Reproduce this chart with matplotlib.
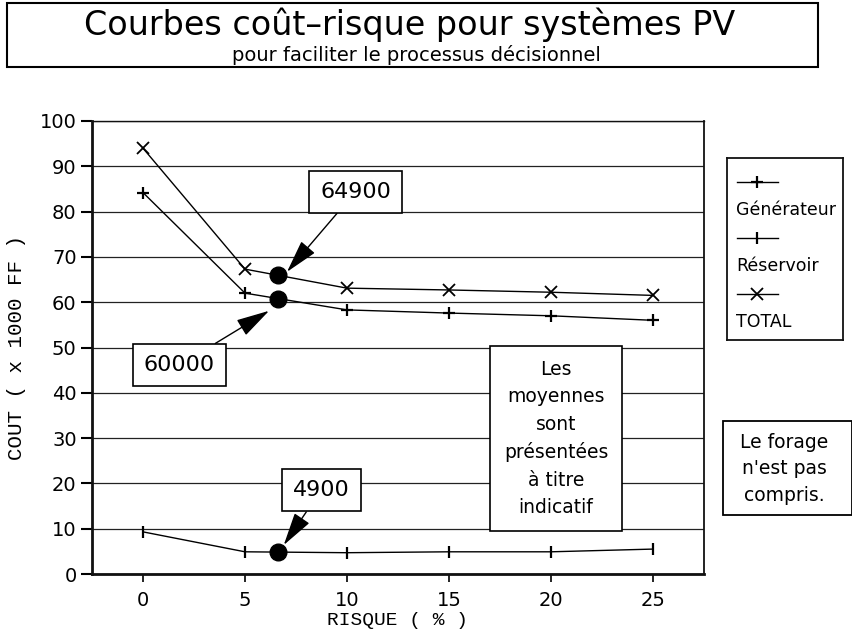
import matplotlib
matplotlib.use("Agg")
import matplotlib.pyplot as plt
from matplotlib.patches import Rectangle
from matplotlib.lines import Line2D

plt.rcParams['font.family'] = 'DejaVu Sans'
plt.rcParams['axes.edgecolor'] = '#111111'

# Data
risque = [0, 5, 10, 15, 20, 25]
generateur = [84.2, 62.0, 58.3, 57.6, 57.0, 56.0]
reservoir = [9.3, 4.9, 4.7, 4.9, 4.9, 5.5]
total = [94.0, 67.3, 63.1, 62.7, 62.2, 61.5]

# Optimum points (big dots) and their labels
risque_opt = 6.6
couts_opt = [65.9, 60.7, 4.85]
labels_opt = ["64900", "60000", "4900"]

series = [
    ("Générateur", generateur, dict(marker='+', markersize=9, markeredgewidth=1.6)),
    ("Réservoir", reservoir, dict(marker='|', markersize=8, markeredgewidth=1.6)),
    ("TOTAL", total, dict(marker='x', markersize=8, markeredgewidth=1.3)),
]

W, H = 853, 636
fig = plt.figure(figsize=(W / 100, H / 100), dpi=100)


def fx(x):
    return x / W


def fy(y):
    return 1 - y / H


ax = fig.add_axes([fx(92), fy(574), fx(704 - 92), (574 - 121) / H])

for name, vals, style in series:
    ax.plot(risque, vals, color='black', linewidth=1.0, **style)

ax.plot([risque_opt] * len(couts_opt), couts_opt, linestyle='none', marker='o',
        markersize=12, color='black', zorder=5)

ax.set_xlim(-2.5, 27.5)
ax.set_ylim(0, 100)
ax.set_xticks(risque)
ax.set_yticks(range(0, 101, 10))
ax.tick_params(axis='both', labelsize=14, direction='out')
ax.tick_params(axis='y', length=8, width=1.5, pad=3)
ax.tick_params(axis='x', length=6, width=1.2, pad=6)
ax.yaxis.grid(True, color='#222222', linewidth=0.9)
ax.set_axisbelow(True)
ax.spines['left'].set_linewidth(2.0)
ax.spines['bottom'].set_linewidth(2.0)
ax.spines['top'].set_linewidth(1.0)
ax.spines['right'].set_linewidth(1.3)

ax.set_xlabel("RISQUE ( % )", family='Liberation Mono', fontsize=14, labelpad=2)
ax.set_ylabel("COUT ( x 1000 FF )", family='Liberation Mono', fontsize=15, labelpad=10)

# Call-out boxes pointing at the optimum
arrow = dict(arrowstyle='-|>,head_length=1.3,head_width=0.35', color='black',
             lw=1.0, shrinkA=0, shrinkB=0, mutation_scale=16)
box = dict(boxstyle='square,pad=0.5', fc='white', ec='black', lw=1.2)
ax.annotate(labels_opt[0], xy=(7.06, 66.7), xytext=(10.42, 84.4), fontsize=16,
            ha='center', va='center', bbox=box, arrowprops=arrow, zorder=6)
ax.annotate(labels_opt[1], xy=(6.18, 58.1), xytext=(1.79, 46.1), fontsize=16,
            ha='center', va='center', bbox=box, arrowprops=arrow, zorder=6)
ax.annotate(labels_opt[2], xy=(6.9, 6.4), xytext=(8.73, 18.5), fontsize=16,
            ha='center', va='center', bbox=box, arrowprops=arrow, zorder=6)

ax.text(20.25, 29.9, "Les\nmoyennes\nsont\nprésentées\nà titre\nindicatif",
        fontsize=13.5, ha='center', va='center', linespacing=1.55, zorder=6,
        bbox=dict(boxstyle='square,pad=0.75', fc='white', ec='black', lw=1.2))

# Title box
fig.add_artist(Rectangle((fx(7), fy(67)), fx(818 - 7), (67 - 3) / H,
                         transform=fig.transFigure, fill=False, ec='black', lw=1.5))
fig.text(fx(410), fy(35), "Courbes coût\u2013risque pour systèmes PV", fontsize=24,
         ha='center', va='baseline')
fig.text(fx(416), fy(61), "pour faciliter le processus décisionnel", fontsize=14,
         ha='center', va='baseline')

# Legend (sample above label)
lax = fig.add_axes([fx(727), fy(340), fx(116), 182 / H])
lax.set_xlim(0, 116)
lax.set_ylim(182, 0)
lax.set_xticks([])
lax.set_yticks([])
for s in lax.spines.values():
    s.set_linewidth(1.3)
for i, (name, vals, style) in enumerate(series):
    yl = 24 + i * 56
    lax.add_line(Line2D([10, 51], [yl, yl], color='black', linewidth=1.0))
    lax.add_line(Line2D([30], [yl], color='black', linestyle='none', **style))
    lax.text(9, yl + 28, name, fontsize=12.5, ha='left', va='center')

# Note box on the right
fig.add_artist(Rectangle((fx(723), fy(515)), fx(852 - 723), (515 - 421) / H,
                         transform=fig.transFigure, fill=False, ec='black', lw=1.3))
fig.text(fx(784), fy(469), "Le forage\nn'est pas\ncompris.", fontsize=13.5,
         ha='center', va='center', linespacing=1.5)

fig.savefig("out.png", dpi=100)
